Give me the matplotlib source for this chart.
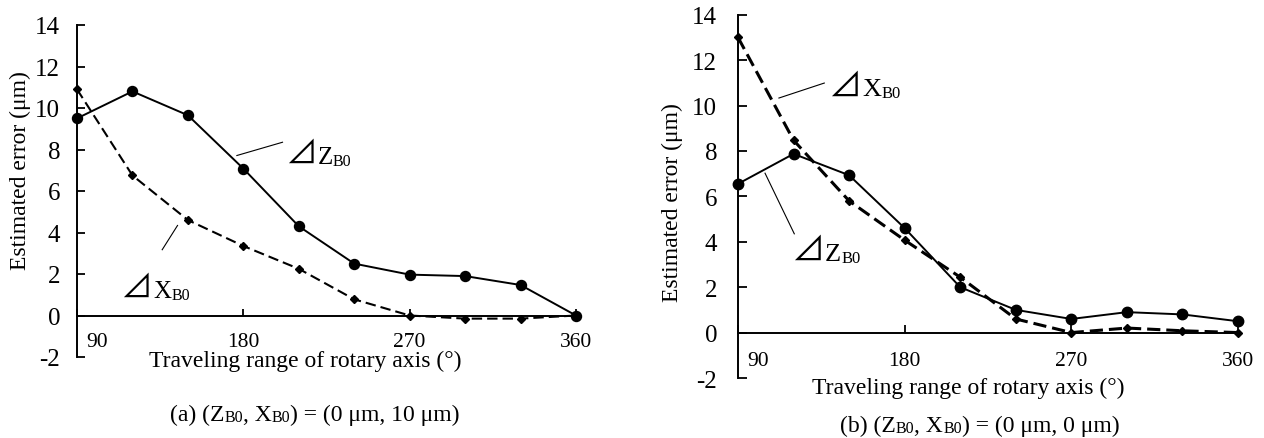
import matplotlib
matplotlib.use("Agg")
import matplotlib.pyplot as plt

plt.rcParams['font.family'] = ['Liberation Serif', 'Noto Sans CJK JP', 'DejaVu Sans']
plt.rcParams['axes.unicode_minus'] = False
plt.rcParams['lines.scale_dashes'] = False

# rotary axis travel (deg)
angles = [90, 120, 150, 180, 210, 240, 270, 300, 330, 360]

# (a) (ZB0, XB0) = (0 um, 10 um)
a_dz = [9.5, 10.8, 9.65, 7.08, 4.3, 2.5, 1.97, 1.9, 1.47, 0.0]
a_dx = [10.9, 6.75, 4.6, 3.35, 2.25, 0.78, 0.0, -0.15, -0.15, 0.0]

# (b) (ZB0, XB0) = (0 um, 0 um)
b_dz = [6.55, 7.87, 6.93, 4.6, 2.0, 1.0, 0.6, 0.9, 0.8, 0.5]
b_dx = [13.0, 8.47, 5.8, 4.07, 2.44, 0.6, 0.0, 0.2, 0.08, 0.0]

x_ticks = [90, 180, 270, 360]
y_ticks = [-2, 0, 2, 4, 6, 8, 10, 12, 14]

W, H = 1264, 439
fig = plt.figure(figsize=(W / 100, H / 100), dpi=100)


def fx(px):
    return px / W


def fy(py):
    return 1 - py / H


def chain(ax, x, y, coords, parts):
    # parts: (text, fontsize, baseline shift in points), written left to right
    prev = None
    for txt, size, dy in parts:
        if prev is None:
            prev = ax.annotate(txt, xy=(x, y), xycoords=coords,
                               xytext=(0, dy), textcoords='offset points',
                               fontsize=size, ha='left', va='baseline',
                               annotation_clip=False)
        else:
            prev = ax.annotate(txt, xy=(1, y), xycoords=(prev, coords),
                               xytext=(0, dy), textcoords='offset points',
                               fontsize=size, ha='left', va='baseline',
                               annotation_clip=False)
    return prev


def setup(ax, tick_pad_y, tick_pad_x, tick_len):
    ax.set_xlim(90, 360)
    ax.set_ylim(-2, 14)
    for s in ['top', 'right']:
        ax.spines[s].set_visible(False)
    ax.spines['bottom'].set_position(('data', 0))
    ax.spines['bottom'].set_bounds(90, 360)
    ax.spines['left'].set_bounds(-2, 14)
    for s in ['left', 'bottom']:
        ax.spines[s].set_linewidth(1.4)
    ax.set_yticks(y_ticks)
    ax.set_yticklabels([str(v) for v in y_ticks])
    ax.set_xticks(x_ticks)
    ax.set_xticklabels([''] + [str(v) for v in x_ticks[1:]])
    ax.tick_params(axis='y', direction='in', length=tick_len, width=1.3, pad=tick_pad_y, labelsize=18)
    ax.tick_params(axis='x', direction='in', length=tick_len - 1, width=1.3, pad=tick_pad_x, labelsize=15.5)
    ax.patch.set_alpha(0)
    # first x label sits right of the y axis
    ax.annotate(str(x_ticks[0]), xy=(x_ticks[0], 0), xycoords='data',
                xytext=(7, -tick_pad_x), textcoords='offset points',
                fontsize=15.5, ha='left', va='top', annotation_clip=False)


ax_a = fig.add_axes([fx(77), fy(358), fx(576) - fx(77), fy(26) - fy(358)])
ax_b = fig.add_axes([fx(738), fy(379), fx(1238) - fx(738), fy(15.7) - fy(379)])

setup(ax_a, 12, 12, 6)
setup(ax_b, 15, 13, 6.5)

# panel (a)
ax_a.plot(angles, a_dx, color='black', lw=1.5, dashes=(7.5, 3.6),
          marker='D', ms=4.2, clip_on=False, zorder=3)
ax_a.plot(angles, a_dz, color='black', lw=1.4, marker='o', ms=7.2,
          clip_on=False, zorder=4)

# panel (b)
ax_b.plot(angles, b_dz, color='black', lw=1.4, marker='o', ms=7.5,
          clip_on=False, zorder=3)
ax_b.plot(angles, b_dx, color='black', lw=2.2, dashes=(9.5, 4.3),
          marker='D', ms=4.4, clip_on=False, zorder=4)

# leader lines and series labels
ax_a.plot([176.5, 201.2], [7.71, 8.35], color='black', lw=0.8)
chain(ax_a, 203, 7.35, 'data', [('⊿', 23, 0), ('Z', 18, 0), ('B0', 11.5, -1.5)])
ax_a.plot([136.1, 144.4], [3.17, 4.34], color='black', lw=0.8)
chain(ax_a, 114, 0.88, 'data', [('⊿', 23, 0), ('X', 18, 0), ('B0', 11.5, -1.5)])

ax_b.plot([112.1, 136.6], [10.33, 10.99], color='black', lw=0.8)
chain(ax_b, 139, 10.45, 'data', [('⊿', 24, 0), ('X', 19, 0), ('B0', 12, -1.5)])
ax_b.plot([104.6, 120.4], [7.02, 4.35], color='black', lw=0.8)
chain(ax_b, 119, 3.2, 'data', [('⊿', 24, 0), ('Z', 19, 0), ('B0', 12, -1.5)])

# axis titles
fig.text(fx(20), fy(171), 'Estimated error (μm)', rotation=90, fontsize=17,
         ha='center', va='center')
fig.text(fx(672), fy(203), 'Estimated error (μm)', rotation=90, fontsize=17,
         ha='center', va='center')
fig.text(fx(305), fy(361), 'Traveling range of rotary axis (°)', fontsize=17,
         ha='center', va='center')
fig.text(fx(968), fy(388), 'Traveling range of rotary axis (°)', fontsize=17,
         ha='center', va='center')

# captions
big, small = 17, 11.5
chain(ax_a, 170, H - 421, 'figure pixels',
      [('(a) (Z', big, 0), ('B0', small, -1), (', X', big, 0), ('B0', small, -1),
       (') = (0 μm, 10 μm)', big, 0)])
chain(ax_b, 840, H - 432, 'figure pixels',
      [('(b) (Z', big, 0), ('B0', small, -1), (', X', big, 0), ('B0', small, -1),
       (') = (0 μm, 0 μm)', big, 0)])

fig.savefig('out.png', dpi=100)
